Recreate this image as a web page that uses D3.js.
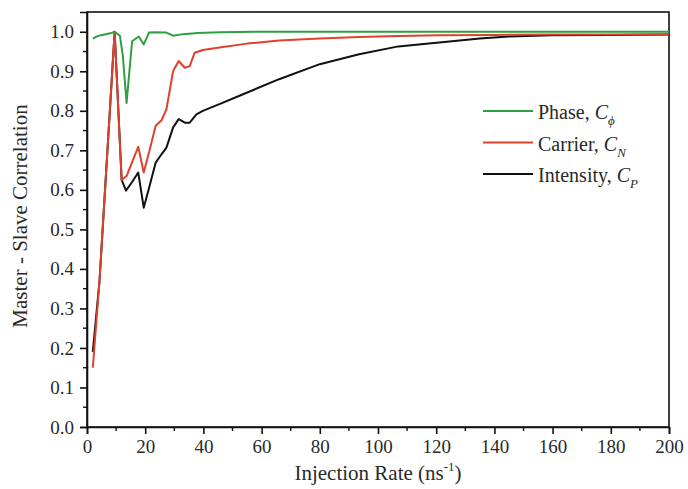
<!DOCTYPE html>
<html lang="en">
<head>
<meta charset="UTF-8">
<title>Master - Slave Correlation vs Injection Rate</title>
<script src="https://d3js.org/d3.v7.min.js"></script>
<style>
  body { margin: 0; background: #ffffff; }
  svg { display: block; font-family: "Liberation Serif", "DejaVu Serif", serif; }
</style>
</head>
<body>
<svg id="chart"></svg>
<script>
// Data (injection rate in ns^-1, correlation)
const phaseX = [2, 4, 6, 8, 9.5, 11.3, 12.3, 13.6, 15.5, 17.8, 19.5, 21.3, 24, 27.3, 29.6, 33, 38, 45.5, 60, 80, 100, 120, 140, 160, 180, 200];
const phaseY = [0.983, 0.99, 0.993, 0.996, 1.0, 0.99, 0.94, 0.82, 0.976, 0.988, 0.968, 0.998, 0.999, 0.998, 0.99, 0.994, 0.997, 0.999, 1.0, 1.0, 1.0, 1.0, 1.0, 1.0, 1.0, 1.0];

const carrierX = [2, 4.3, 9.5, 11.9, 13.6, 15.5, 17.6, 19.5, 21.5, 23.6, 25.6, 27.3, 29.6, 31.5, 33.6, 35.3, 37, 39.8, 45.5, 55, 66, 80, 93.5, 107, 121, 140, 160, 180, 200];
const carrierY = [0.15, 0.37, 1.0, 0.625, 0.635, 0.67, 0.709, 0.644, 0.70, 0.762, 0.776, 0.804, 0.901, 0.926, 0.909, 0.913, 0.947, 0.954, 0.96, 0.97, 0.978, 0.983, 0.987, 0.989, 0.991, 0.992, 0.993, 0.993, 0.994];

const intensityX = [2, 4.3, 9.5, 11.9, 13.4, 15.5, 17.6, 19.5, 21.5, 23.6, 25.6, 27.3, 29.6, 31.5, 33.6, 35.3, 37.6, 39.8, 45.5, 52.4, 66, 80, 93.5, 107, 121, 135, 145, 160, 180, 200];
const intensityY = [0.19, 0.37, 1.0, 0.625, 0.598, 0.62, 0.644, 0.555, 0.61, 0.669, 0.69, 0.707, 0.758, 0.779, 0.770, 0.770, 0.791, 0.80, 0.817, 0.838, 0.88, 0.918, 0.943, 0.963, 0.973, 0.983, 0.988, 0.991, 0.992, 0.993];

const xTicks = [0, 20, 40, 60, 80, 100, 120, 140, 160, 180, 200];
const yTicks = [0, 0.1, 0.2, 0.3, 0.4, 0.5, 0.6, 0.7, 0.8, 0.9, 1.0];

const series = [
  { name: "Phase, ", sub: "\u03d5", xs: phaseX, ys: phaseY, color: "#2ea043" },
  { name: "Carrier, ", sub: "N", xs: carrierX, ys: carrierY, color: "#e0402e" },
  { name: "Intensity, ", sub: "P", xs: intensityX, ys: intensityY, color: "#111111" }
];

const width = 688, height = 489;
const margin = { left: 87, right: 19, top: 12, bottom: 62 };

const svg = d3.select("#chart").attr("width", width).attr("height", height);

const x = d3.scaleLinear().domain([0, 200]).range([margin.left, width - margin.right]);
const y = d3.scaleLinear().domain([0, 1.05]).range([height - margin.bottom, margin.top]);

// frame
svg.append("rect")
  .attr("x", x(0)).attr("y", y(1.05))
  .attr("width", x(200) - x(0)).attr("height", y(0) - y(1.05))
  .attr("fill", "none").attr("stroke", "#111").attr("stroke-width", 1.6);

// minor ticks
const minorX = d3.range(10, 200, 20);
svg.append("g").selectAll("line").data(minorX).join("line")
  .attr("x1", d => x(d)).attr("x2", d => x(d))
  .attr("y1", y(0)).attr("y2", y(0) + 4)
  .attr("stroke", "#111").attr("stroke-width", 1.4);
const minorY = d3.range(0.05, 1.05, 0.1);
svg.append("g").selectAll("line").data(minorY).join("line")
  .attr("x1", x(0) - 4).attr("x2", x(0))
  .attr("y1", d => y(d)).attr("y2", d => y(d))
  .attr("stroke", "#111").attr("stroke-width", 1.4);

// axes
const xAxis = svg.append("g")
  .attr("transform", `translate(0,${y(0)})`)
  .call(d3.axisBottom(x).tickValues(xTicks).tickSize(7).tickPadding(6).tickFormat(d3.format("d")));
const yAxis = svg.append("g")
  .attr("transform", `translate(${x(0)},0)`)
  .call(d3.axisLeft(y).tickValues(yTicks).tickSize(7).tickPadding(6).tickFormat(d3.format(".1f")));

[xAxis, yAxis].forEach(g => {
  g.select(".domain").attr("stroke", "#111").attr("stroke-width", 1.6);
  g.selectAll(".tick line").attr("stroke", "#111").attr("stroke-width", 1.6);
  g.selectAll(".tick text").attr("fill", "#2a2a2a").style("font-size", "19px")
    .style("font-family", "'Liberation Serif', serif");
});

// lines (intensity underneath, phase on top)
const line = d3.line().x(d => x(d[0])).y(d => y(d[1]));
series.slice().reverse().forEach(s => {
  svg.append("path")
    .datum(s.xs.map((v, i) => [v, s.ys[i]]))
    .attr("d", line)
    .attr("fill", "none")
    .attr("stroke", s.color)
    .attr("stroke-width", 2)
    .attr("stroke-linejoin", "round");
});

// legend
const legend = svg.append("g").attr("transform", "translate(483,111)");
series.forEach((s, i) => {
  const g = legend.append("g").attr("transform", `translate(0,${i * 31.5})`);
  g.append("line").attr("x1", 0).attr("x2", 50).attr("y1", 0).attr("y2", 0)
    .attr("stroke", s.color).attr("stroke-width", 2);
  const t = g.append("text").attr("x", 55).attr("y", 8)
    .style("font-size", "20px").attr("fill", "#2a2a2a");
  t.append("tspan").text(s.name);
  t.append("tspan").style("font-style", "italic").text("C");
  t.append("tspan").attr("dy", 6).style("font-size", "13px").style("font-style", "italic").text(s.sub);
});

// axis titles
svg.append("text")
  .attr("x", (x(0) + x(200)) / 2).attr("y", 480)
  .attr("text-anchor", "middle").style("font-size", "21px").attr("fill", "#2a2a2a")
  .call(t => {
    t.append("tspan").text("Injection Rate (ns");
    t.append("tspan").attr("dy", -9).style("font-size", "13px").text("-1");
    t.append("tspan").attr("dy", 9).text(")");
  });

svg.append("text")
  .attr("transform", `translate(27,216) rotate(-90)`)
  .attr("text-anchor", "middle").style("font-size", "21px").attr("fill", "#2a2a2a")
  .text("Master - Slave Correlation");
</script>
</body>
</html>
